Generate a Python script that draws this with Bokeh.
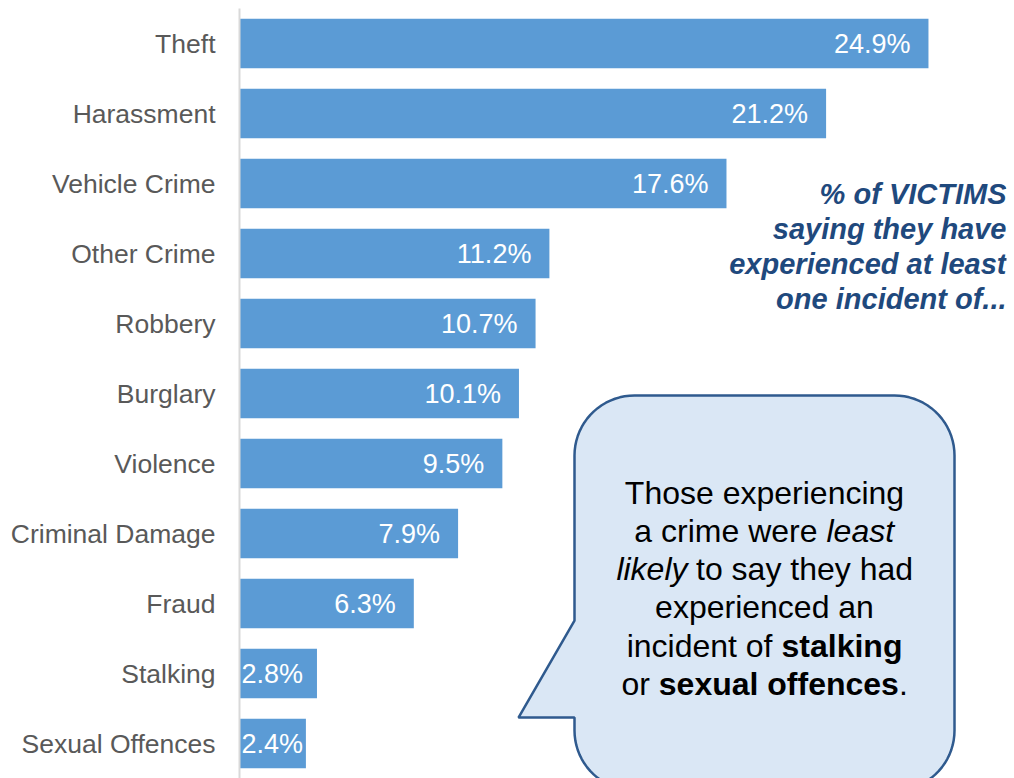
import numpy as np
from bokeh.plotting import figure
from bokeh.models import FactorRange, Range1d, ColumnDataSource
from bokeh.core.properties import value
from bokeh.embed import file_html
from bokeh.resources import INLINE

# ---------------- data ----------------
categories = ["Theft", "Harassment", "Vehicle Crime", "Other Crime", "Robbery",
              "Burglary", "Violence", "Criminal Damage", "Fraud", "Stalking",
              "Sexual Offences"]
percent = [24.9, 21.2, 17.6, 11.2, 10.7, 10.1, 9.5, 7.9, 6.3, 2.8, 2.4]
value_labels = [f"{v:.1f}%" for v in percent]

title_lines = ["% of VICTIMS", "saying they have", "experienced at least",
               "one incident of..."]

# ---------------- layout ----------------
W, H = 1014, 778
LEFT, TOP, RIGHT = 239, 8, 8
FRAME_W = W - LEFT - RIGHT
FRAME_H = H - TOP
X_END = 27.72
PPX = FRAME_W / X_END
N = len(categories)
PPY = FRAME_H / N
FONT = "Liberation Sans"
DY = -11.5  # baseline correction for rendered text


def sx(px):
    """page pixel x -> data x"""
    return (px - LEFT) / PPX


def sy(py):
    """page pixel y -> synthetic y"""
    return (H - py) / PPY


p = figure(width=W, height=H,
           y_range=FactorRange(factors=categories[::-1], range_padding=0),
           x_range=Range1d(0, X_END),
           x_axis_location=None, toolbar_location=None, output_backend="svg",
           min_border_left=LEFT, min_border_right=RIGHT, min_border_top=TOP,
           min_border_bottom=0, outline_line_color=None)
p.xgrid.visible = False
p.ygrid.visible = False

src = ColumnDataSource(dict(cat=categories, val=percent, lab=value_labels))
p.hbar(y="cat", left=0, right="val", height=0.71, source=src,
       fill_color="#5B9BD5", line_color=None)

ax = p.yaxis[0]
ax.axis_line_color = "#D9D9D9"
ax.axis_line_width = 2
ax.major_tick_line_color = None
ax.minor_tick_line_color = None
ax.major_label_text_font = FONT
ax.major_label_text_font_size = "26.5px"
ax.major_label_text_color = "#595959"
ax.major_label_standoff = 18

# value labels
big = [i for i, v in enumerate(percent) if v >= 3]
small = [i for i, v in enumerate(percent) if v < 3]
p.text(x=[percent[i] for i in big], y=[categories[i] for i in big],
       text=[value_labels[i] for i in big], text_align="right",
       text_baseline="middle", x_offset=-18, text_color="white",
       text_font=value(FONT), text_font_size="27px")
p.text(x=[0] * len(small), y=[categories[i] for i in small],
       text=[value_labels[i] for i in small], text_align="left",
       text_baseline="middle", x_offset=2, text_color="white",
       text_font=value(FONT), text_font_size="27px")

# title block on right
title_baselines = [205, 240, 275, 310]
p.text(x=[sx(1006)] * len(title_lines), y=[sy(b + DY) for b in title_baselines],
       text=title_lines, text_align="right", text_baseline="alphabetic",
       text_color="#1F497D", text_font=value(FONT), text_font_style="bold italic",
       text_font_size="29px")

# speech bubble (page pixel geometry)
L, R, T, B, r = 574, 954, 395, 790, 60
tail_top, tail_bot, tip = 620, 717, (518, 717)


def arc(cx, cy, a0, a1, n=20):
    t = np.linspace(np.radians(a0), np.radians(a1), n)
    return list(cx + r * np.cos(t)), list(cy - r * np.sin(t))


xs, ys = [], []
for seg in [
    ([L + r, R - r], [T, T]),
    arc(R - r, T + r, 90, 0),
    ([R, R], [T + r, B - r]),
    arc(R - r, B - r, 0, -90),
    ([R - r, L + r], [B, B]),
    arc(L + r, B - r, -90, -180),
    ([L, L, tip[0], L, L], [B - r, tail_bot, tip[1], tail_top, T + r]),
    arc(L + r, T + r, 180, 90),
]:
    xs += list(seg[0])
    ys += list(seg[1])

p.patch([sx(x) for x in xs], [sy(y) for y in ys], fill_color="#DAE7F5",
        line_color="#2F5A8E", line_width=2.5)

# callout text: (text, anchor px, baseline px, align, style)
segments = [
    ("Those experiencing", 764, 504, "center", "normal"),
    ("a crime were", 817, 542, "right", "normal"),
    ("least", 826, 542, "left", "italic"),
    ("likely", 687, 580, "right", "italic"),
    ("to say they had", 695.5, 580, "left", "normal"),
    ("experienced an", 764, 618, "center", "normal"),
    ("incident of", 772, 657, "right", "normal"),
    ("stalking", 781, 657, "left", "bold"),
    ("or", 649.5, 695, "right", "normal"),
    ("sexual offences", 658.3, 695, "left", "bold"),
    (".", 898.4, 695, "left", "normal"),
]
for txt, ax_px, by, align, style in segments:
    p.text(x=[sx(ax_px)], y=[sy(by + DY)], text=[txt], text_align=align,
           text_baseline="alphabetic", text_color="black",
           text_font=value(FONT), text_font_style=style, text_font_size="32px")

open("out.html", "w").write(file_html(p, INLINE))
